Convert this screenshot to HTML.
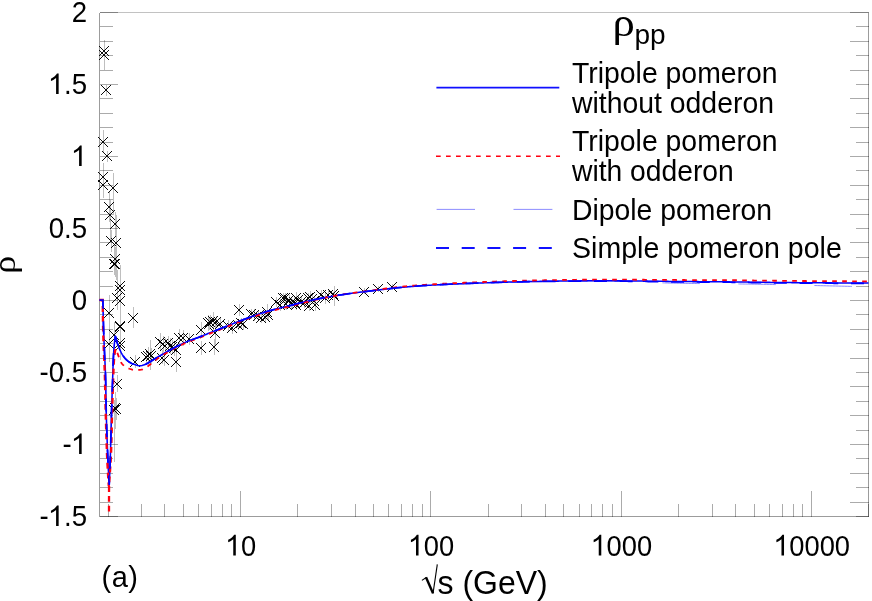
<!DOCTYPE html><html><head><meta charset="utf-8"><title>rho pp</title>
<style>html,body{margin:0;padding:0;background:#fff}svg{display:block;will-change:transform}text{font-family:"Liberation Sans",sans-serif;fill:#000}</style></head><body>
<svg width="872" height="601" viewBox="0 0 872 601">
<rect width="872" height="601" fill="#fff"/>
<path d="M99.5 12.5h18M99.5 26.5h13M99.5 41.5h13M99.5 55.5h13M99.5 70.5h13M99.5 84.5h18M99.5 98.5h13M99.5 113.5h13M99.5 127.5h13M99.5 142.5h13M99.5 156.5h18M99.5 170.5h13M99.5 185.5h13M99.5 199.5h13M99.5 214.5h13M99.5 228.5h18M99.5 242.5h13M99.5 257.5h13M99.5 271.5h13M99.5 286.5h13M99.5 300.5h18M99.5 314.5h13M99.5 329.5h13M99.5 343.5h13M99.5 358.5h13M99.5 372.5h18M99.5 386.5h13M99.5 401.5h13M99.5 415.5h13M99.5 430.5h13M99.5 444.5h18M99.5 458.5h13M99.5 473.5h13M99.5 487.5h13M99.5 502.5h13M99.5 516.5h18" stroke="#000" stroke-opacity="0.33" stroke-width="1" fill="none" shape-rendering="crispEdges"/>
<path d="M868.5 12.5h-18.5M868.5 26.5h-13M868.5 41.5h-18.5M868.5 55.5h-13M868.5 70.5h-18.5M868.5 84.5h-13M868.5 98.5h-18.5M868.5 113.5h-13M868.5 127.5h-18.5M868.5 142.5h-13M868.5 156.5h-18.5M868.5 170.5h-13M868.5 185.5h-18.5M868.5 199.5h-13M868.5 214.5h-18.5M868.5 228.5h-13M868.5 242.5h-18.5M868.5 257.5h-13M868.5 271.5h-18.5M868.5 286.5h-13M868.5 300.5h-18.5M868.5 314.5h-13M868.5 329.5h-18.5M868.5 343.5h-13M868.5 358.5h-18.5M868.5 372.5h-13M868.5 386.5h-18.5M868.5 401.5h-13M868.5 415.5h-18.5M868.5 430.5h-13M868.5 444.5h-18.5M868.5 458.5h-13M868.5 473.5h-18.5M868.5 487.5h-13M868.5 502.5h-18.5M868.5 516.5h-13" stroke="#000" stroke-opacity="0.33" stroke-width="1" fill="none" shape-rendering="crispEdges"/>
<path d="M108.5 516.5v-13M141.5 516.5v-13M164.5 516.5v-13M183.5 516.5v-13M198.5 516.5v-13M211.5 516.5v-13M222.5 516.5v-13M231.5 516.5v-13M240.5 516.5v-25.5M297.5 516.5v-13M331.5 516.5v-13M355.5 516.5v-13M373.5 516.5v-13M388.5 516.5v-13M401.5 516.5v-13M412.5 516.5v-13M422.5 516.5v-13M430.5 516.5v-25.5M488.5 516.5v-13M521.5 516.5v-13M545.5 516.5v-13M563.5 516.5v-13M579.5 516.5v-13M591.5 516.5v-13M602.5 516.5v-13M612.5 516.5v-13M621.5 516.5v-25.5M678.5 516.5v-13M712.5 516.5v-13M735.5 516.5v-13M754.5 516.5v-13M769.5 516.5v-13M782.5 516.5v-13M793.5 516.5v-13M802.5 516.5v-13M811.5 516.5v-25.5M868.5 516.5v-13" stroke="#000" stroke-opacity="0.33" stroke-width="1" fill="none" shape-rendering="crispEdges"/>
<path d="M99.5 12.5H868.5" stroke="#000" stroke-opacity="0.24" stroke-width="1" fill="none" shape-rendering="crispEdges"/>
<path d="M99.5 12.5V516.5M99.5 516.5H868.5M868.5 516.5V12.5" stroke="#000" stroke-opacity="0.39" stroke-width="1" fill="none" shape-rendering="crispEdges"/>
<path d="M104.5 40V70M104.5 45V66M106.5 85V96M103.5 130V152M107.5 151V162M103.5 163V193M103.5 170V198M113.5 173V215M109.5 192V222M110.5 200V240M115.5 212V236M111.5 230V252M116.5 215V280M115.5 247V271M114.5 245V275M115.5 252V277M120.5 265V307M120.5 270V360M117.5 270V310M120.5 285V316M109.5 295V332M133.5 307V328M120.5 312V340M120.5 315V339M114.5 322V348M109.5 325V362M120.5 330V357M120.5 334V358M117.5 375V392M115.5 392V429M116.5 398V420M114.5 400V462M135.5 355V368M146.5 350V364M148.5 347V365M150.5 340V370M151.5 348V364M160.5 333V351M163.5 336V352M165.5 338V352M168.5 336V350M170.5 338V354M172.5 340V354M174.5 342V356M176.5 344V356M179.5 329V347M183.5 330V346M162.5 350V364M164.5 354V366M176.5 354V372M189.5 333V345M201.5 341V355M214.5 339V355M201.5 322V338M208.5 315V331M210.5 315V329M213.5 312V330M216.5 316V328M215.5 321V345M209.5 318V330M220.5 318V330M228.5 320V332M232.5 324V334M239.5 304V316M241.5 318V328M243.5 318V330M238.5 320V330M251.5 309V319M254.5 309V321M258.5 311V321M261.5 313V323M265.5 311V323M268.5 310V320M267.5 304V320M276.5 297V307M280.5 299V311M283.5 293V303M286.5 298V310M289.5 295V305M291.5 297V309M294.5 297V307M296.5 292V304M298.5 295V305M292.5 299V309M296.5 300V310M301.5 297V307M304.5 298V308M308.5 293V303M310.5 291V303M312.5 294V304M314.5 296V306M315.5 299V311M309.5 301V311M321.5 290V300M325.5 292V304M328.5 290V300M333.5 292V298M334.5 286V306M334.5 291V301M285.5 293V303M364.5 288V294M378.5 286V292M392.5 284V290" stroke="#000" stroke-opacity="0.25" stroke-width="1" fill="none" shape-rendering="crispEdges"/>
<path d="M99 46l10 10M109 46l-10 10M99 50l10 10M109 50l-10 10M101 85l10 10M111 85l-10 10M98 137l10 10M108 137l-10 10M102 151l10 10M112 151l-10 10M98 172l10 10M108 172l-10 10M98 180l10 10M108 180l-10 10M108 183l10 10M118 183l-10 10M104 202l10 10M114 202l-10 10M105 210l10 10M115 210l-10 10M110 219l10 10M120 219l-10 10M106 236l10 10M116 236l-10 10M111 238l10 10M121 238l-10 10M110 254l10 10M120 254l-10 10M109 259l10 10M119 259l-10 10M110 259l10 10M120 259l-10 10M115 281l10 10M125 281l-10 10M115 285l10 10M125 285l-10 10M112 293l10 10M122 293l-10 10M115 296l10 10M125 296l-10 10M104 308l10 10M114 308l-10 10M128 313l10 10M138 313l-10 10M115 321l10 10M125 321l-10 10M115 322l10 10M125 322l-10 10M109 330l10 10M119 330l-10 10M104 339l10 10M114 339l-10 10M115 338l10 10M125 338l-10 10M115 341l10 10M125 341l-10 10M112 379l10 10M122 379l-10 10M110 403l10 10M120 403l-10 10M111 404l10 10M121 404l-10 10M109 405l10 10M119 405l-10 10M130 357l10 10M140 357l-10 10M141 352l10 10M151 352l-10 10M143 351l10 10M153 351l-10 10M145 349l10 10M155 349l-10 10M146 351l10 10M156 351l-10 10M155 337l10 10M165 337l-10 10M158 339l10 10M168 339l-10 10M160 341l10 10M170 341l-10 10M163 338l10 10M173 338l-10 10M165 341l10 10M175 341l-10 10M167 342l10 10M177 342l-10 10M169 343l10 10M179 343l-10 10M171 345l10 10M181 345l-10 10M174 333l10 10M184 333l-10 10M178 333l10 10M188 333l-10 10M157 353l10 10M167 353l-10 10M159 355l10 10M169 355l-10 10M171 357l10 10M181 357l-10 10M184 334l10 10M194 334l-10 10M196 343l10 10M206 343l-10 10M209 342l10 10M219 342l-10 10M196 325l10 10M206 325l-10 10M203 318l10 10M213 318l-10 10M205 317l10 10M215 317l-10 10M208 316l10 10M218 316l-10 10M211 317l10 10M221 317l-10 10M210 328l10 10M220 328l-10 10M204 319l10 10M214 319l-10 10M215 319l10 10M225 319l-10 10M223 321l10 10M233 321l-10 10M227 323l10 10M237 323l-10 10M234 305l10 10M244 305l-10 10M236 318l10 10M246 318l-10 10M238 319l10 10M248 319l-10 10M233 320l10 10M243 320l-10 10M246 309l10 10M256 309l-10 10M249 310l10 10M259 310l-10 10M253 311l10 10M263 311l-10 10M256 313l10 10M266 313l-10 10M260 312l10 10M270 312l-10 10M263 310l10 10M273 310l-10 10M262 307l10 10M272 307l-10 10M271 297l10 10M281 297l-10 10M275 300l10 10M285 300l-10 10M278 293l10 10M288 293l-10 10M281 299l10 10M291 299l-10 10M284 295l10 10M294 295l-10 10M286 298l10 10M296 298l-10 10M289 297l10 10M299 297l-10 10M291 293l10 10M301 293l-10 10M293 295l10 10M303 295l-10 10M287 299l10 10M297 299l-10 10M291 300l10 10M301 300l-10 10M296 297l10 10M306 297l-10 10M299 298l10 10M309 298l-10 10M303 293l10 10M313 293l-10 10M305 292l10 10M315 292l-10 10M307 294l10 10M317 294l-10 10M309 296l10 10M319 296l-10 10M310 300l10 10M320 300l-10 10M304 301l10 10M314 301l-10 10M316 290l10 10M326 290l-10 10M320 293l10 10M330 293l-10 10M323 290l10 10M333 290l-10 10M328 289l10 10M338 289l-10 10M329 291l10 10M339 291l-10 10M329 291l10 10M339 291l-10 10M280 293l10 10M290 293l-10 10M359 287l10 10M369 287l-10 10M373 284l10 10M383 284l-10 10M387 282l10 10M397 282l-10 10" stroke="#000" stroke-width="0.95" fill="none"/>
<path d="M662.40 282.84L663.16 282.87L664.66 282.92L666.16 282.96L667.66 283.01L669.16 283.05L670.65 283.10L672.15 283.13L673.65 283.17L675.15 283.21L676.65 283.24L678.15 283.27L679.65 283.29L681.14 283.32L682.64 283.34L684.14 283.36L685.64 283.39L687.14 283.41L688.64 283.43L690.14 283.45L691.64 283.47L693.14 283.48L694.63 283.50L696.13 283.52L697.63 283.54L699.13 283.55L700.63 283.57L702.13 283.58L703.63 283.60L705.13 283.62L706.63 283.63L708.13 283.64L709.63 283.66L711.12 283.67L712.62 283.69L714.12 283.70L715.62 283.72L717.12 283.73L718.62 283.74L720.12 283.76L721.62 283.77L723.12 283.79L724.62 283.80L726.12 283.82L727.61 283.83L729.11 283.84L730.61 283.86L732.11 283.88L733.61 283.89L735.11 283.91L736.61 283.93L738.11 283.94L739.61 283.96L741.11 283.98L742.61 284.00L744.10 284.02L745.60 284.04L747.10 284.06L748.60 284.08L750.10 284.10L751.60 284.12L753.10 284.15L754.60 284.17L756.10 284.20L757.59 284.22L759.09 284.25L760.59 284.28L762.09 284.31L763.59 284.34L765.09 284.36L766.59 284.39L768.09 284.42L769.58 284.46L771.08 284.49L772.58 284.52L774.08 284.55L775.58 284.58L777.08 284.62L778.58 284.65L780.08 284.69L781.57 284.72L783.07 284.76L784.57 284.79L786.07 284.83L787.57 284.86L789.07 284.90L790.57 284.93L792.07 284.97L793.56 285.01L795.06 285.04L796.56 285.08L798.06 285.12L799.56 285.16L801.06 285.19L802.56 285.23L804.06 285.27L805.55 285.31L807.05 285.34L808.55 285.38L810.05 285.42L811.55 285.46L813.05 285.49L814.55 285.53L816.05 285.57L817.54 285.60L819.04 285.64L820.54 285.68L822.04 285.71L823.54 285.75L825.04 285.78L826.54 285.82L828.03 285.85L829.53 285.89L831.03 285.92L832.53 285.96L834.03 285.99L835.53 286.03L837.03 286.06L838.53 286.10L840.02 286.13L841.52 286.17L843.02 286.20L844.52 286.24L846.02 286.27L847.52 286.31L849.02 286.34L850.52 286.38L852.01 286.41L853.51 286.45L855.01 286.48L856.51 286.52L858.01 286.55L859.51 286.59L861.01 286.62L862.51 286.66L864.00 286.69L865.50 286.73L867.00 286.76L868.50 286.80" stroke="#6c6cff" stroke-width="0.8" fill="none" stroke-dasharray="37.5 38.5"/>
<path d="M662.40 282.84L661.66 282.82L660.16 282.76L658.67 282.71L657.17 282.66L655.67 282.60L654.17 282.54L652.67 282.49L651.17 282.43L649.68 282.37L648.18 282.31L646.68 282.25L645.18 282.19L643.68 282.13L642.18 282.07L640.69 282.01L639.19 281.96L637.69 281.90L636.19 281.84L634.69 281.78L633.19 281.73L631.69 281.67L630.20 281.62L628.70 281.57L627.20 281.52L625.70 281.47L624.20 281.42L622.70 281.38L621.21 281.33L619.71 281.29L618.21 281.25L616.71 281.21L615.21 281.18L613.71 281.15L612.21 281.12L610.72 281.09L609.22 281.07L607.72 281.05L606.22 281.03L604.72 281.02L603.22 281.01L601.72 281.00L600.23 281.00L598.73 281.00L597.23 281.00L595.73 281.01L594.23 281.01L592.73 281.01L591.23 281.02L589.73 281.03L588.23 281.04L586.73 281.05L585.24 281.06L583.74 281.07L582.24 281.08L580.74 281.09L579.24 281.10L577.74 281.12L576.24 281.13L574.74 281.15L573.24 281.16L571.74 281.18L570.24 281.19L568.74 281.21L567.25 281.22L565.75 281.24L564.25 281.25L562.75 281.27L561.25 281.29L559.75 281.30L558.25 281.32L556.75 281.34L555.25 281.35L553.75 281.37L552.26 281.39L550.76 281.42L549.26 281.44L547.76 281.46L546.26 281.48L544.76 281.51L543.26 281.53L541.76 281.56L540.26 281.59L538.76 281.61L537.27 281.64L535.77 281.67L534.27 281.70L532.77 281.73L531.27 281.76L529.77 281.79L528.27 281.82L526.77 281.85L525.28 281.89L523.78 281.92L522.28 281.95L520.78 281.98L519.28 282.02L517.78 282.05L516.28 282.09L514.78 282.12L513.29 282.16L511.79 282.20L510.29 282.24L508.79 282.28L507.29 282.32L505.79 282.36L504.29 282.41L502.80 282.45L501.30 282.50L499.80 282.54L498.30 282.59L496.80 282.64L495.30 282.69L493.81 282.73L492.31 282.78L490.81 282.83L489.31 282.88L487.81 282.93L486.31 282.98L484.82 283.03L483.32 283.09L481.82 283.14L480.32 283.19L478.82 283.24L477.32 283.29L475.83 283.35L474.33 283.40L472.83 283.46L471.33 283.51L469.83 283.57L468.34 283.63L466.84 283.69L465.34 283.75L463.84 283.81L462.34 283.87L460.85 283.93L459.35 283.99L457.85 284.05L456.35 284.12L454.85 284.18L453.36 284.25L451.86 284.32L450.36 284.38L448.86 284.45L447.37 284.52L445.87 284.59L444.37 284.66L442.87 284.73L441.38 284.80L439.88 284.88L438.38 284.95L436.88 285.03L435.39 285.10L433.89 285.18L432.39 285.26L430.90 285.35L429.40 285.43L427.90 285.52L426.41 285.61L424.91 285.71L423.42 285.80L421.92 285.90L420.42 286.00L418.93 286.11L417.43 286.22L415.94 286.33L414.44 286.45L412.95 286.57L411.45 286.69L409.96 286.81L408.47 286.94L406.97 287.07L405.48 287.20L403.98 287.33L402.49 287.47L401.00 287.61L399.51 287.75L398.02 287.89L396.53 288.05L395.04 288.21L393.55 288.37L392.06 288.54L390.57 288.71L389.08 288.89L387.59 289.07L386.10 289.25L384.61 289.43L383.12 289.61L381.64 289.79L380.15 289.98L378.66 290.16L377.17 290.34L375.68 290.52L374.19 290.70L372.70 290.87L371.22 291.04L369.73 291.22L368.24 291.39L366.75 291.57L365.26 291.75L363.77 291.93L362.28 292.11L360.80 292.30L359.31 292.49L357.82 292.68L356.34 292.88L354.85 293.07L353.36 293.27L351.88 293.47L350.39 293.68L348.91 293.89L347.42 294.10L345.94 294.31L344.46 294.53L342.97 294.75L341.49 294.97L340.01 295.20L338.53 295.43L337.05 295.67L335.57 295.91L334.09 296.15L332.61 296.40L331.13 296.65L329.66 296.91L328.18 297.17L326.70 297.43L325.23 297.70L323.75 297.98L322.28 298.26L320.81 298.54L319.34 298.83L317.87 299.13L316.40 299.43L314.94 299.74L313.47 300.06L312.01 300.38L310.55 300.71L309.08 301.04L307.62 301.38L306.16 301.72L304.70 302.07L303.24 302.42L301.79 302.77L300.33 303.12L298.87 303.48L297.42 303.85L295.97 304.23L294.52 304.61L293.07 305.00L291.62 305.38L290.17 305.76L288.72 306.12L287.26 306.48L285.80 306.84L284.35 307.19L282.89 307.54L281.43 307.88L279.97 308.23L278.51 308.58L277.05 308.94L275.60 309.30L274.15 309.67L272.70 310.05L271.25 310.45L269.81 310.85L268.38 311.28L266.95 311.71L265.52 312.16L264.09 312.62L262.67 313.09L261.24 313.56L259.82 314.05L258.41 314.54L256.99 315.03L255.57 315.53L254.16 316.03L252.74 316.53L251.33 317.03L249.91 317.53L248.50 318.03L247.09 318.53L245.68 319.03L244.27 319.54L242.86 320.06L241.45 320.58L240.05 321.10L238.64 321.63L237.24 322.16L235.84 322.70L234.45 323.25L233.06 323.81L231.67 324.37L230.28 324.93L228.89 325.50L227.50 326.06L226.11 326.62L224.72 327.17L223.32 327.72L221.93 328.27L220.53 328.82L219.13 329.36L217.74 329.90L216.34 330.45L214.94 331.00L213.55 331.55L212.15 332.10L210.76 332.66L209.37 333.22L207.99 333.79L206.60 334.36L205.21 334.92L203.82 335.49L202.43 336.05L201.04 336.60L199.64 337.14L198.23 337.66L196.82 338.17L195.41 338.67L193.99 339.17L192.57 339.67L191.16 340.18L189.76 340.70L188.37 341.24L186.99 341.82L185.61 342.41L184.25 343.03L182.89 343.66L181.54 344.31L180.19 344.97L178.84 345.64L177.50 346.32L176.17 347.00L174.84 347.68L173.51 348.38L172.18 349.08L170.87 349.79L169.55 350.52L168.24 351.25L166.93 351.98L165.63 352.72L164.32 353.46L163.02 354.20L161.72 354.95L160.42 355.69L159.13 356.45L157.83 357.21L156.54 357.97L155.26 358.74L153.98 359.53L152.72 360.34L151.45 361.14L150.16 361.91L148.86 362.66L147.55 363.44L146.22 364.18L144.87 364.81L143.47 365.26L142.01 365.64L140.52 365.88L139.04 365.85L137.56 365.62L136.08 365.25L134.62 364.78L133.20 364.26L131.84 363.73L130.50 363.04L129.20 362.23L127.97 361.33L126.84 360.39L125.78 359.35L124.76 358.22L123.82 357.02L122.95 355.79L122.17 354.54L121.44 353.24L120.76 351.89L120.12 350.52L119.51 349.14L118.94 347.75L118.40 346.36L117.89 344.94L117.42 343.52L116.97 342.09L116.54 340.65L116.13 339.21L115.75 337.76L115.40 336.10L115.16 337.57L114.94 339.05L114.73 340.52L114.55 342.00L114.40 343.48L114.26 344.97L114.13 346.45L114.01 347.94L113.90 349.43L113.79 350.91L113.69 352.40L113.60 353.89L113.51 355.38L113.43 356.87L113.36 358.36L113.29 359.85L113.23 361.33L113.17 362.82L113.11 364.31L113.06 365.80L113.01 367.29L112.96 368.78L112.91 370.27L112.86 371.76L112.82 373.25L112.77 374.74L112.72 376.23L112.68 377.72L112.63 379.21L112.58 380.70L112.52 382.19L112.47 383.68L112.42 385.17L112.37 386.66L112.32 388.15L112.27 389.64L112.21 391.13L112.16 392.62L112.11 394.11L112.06 395.60L112.01 397.09L111.96 398.58L111.91 400.07L111.86 401.56L111.82 403.05L111.77 404.54L111.72 406.03L111.68 407.52L111.63 409.01L111.59 410.50L111.54 411.99L111.50 413.48L111.46 414.97L111.42 416.46L111.38 417.95L111.34 419.44L111.30 420.93L111.26 422.42L111.22 423.91L111.19 425.40L111.15 426.90L111.11 428.39L111.08 429.88L111.04 431.37L111.01 432.86L110.97 434.35L110.93 435.84L110.90 437.33L110.86 438.82L110.82 440.31L110.78 441.80L110.74 443.29L110.70 444.78L110.66 446.27L110.62 447.76L110.58 449.25L110.53 450.74L110.49 452.23L110.44 453.72L110.39 455.21L110.34 456.70L110.29 458.19L110.24 459.68L110.19 461.17L110.13 462.66L110.08 464.15L110.02 465.64L109.96 467.13L109.90 468.62L109.84 470.11L109.78 471.60L109.72 473.08L109.66 474.57L109.60 476.06L109.53 477.55L109.47 479.04L109.40 480.53L109.33 482.02L109.27 483.51L109.20 485.00L109.12 483.51L109.03 482.02L108.95 480.53L108.87 479.04L108.79 477.55L108.71 476.06L108.63 474.56L108.55 473.07L108.47 471.58L108.39 470.09L108.32 468.60L108.25 467.11L108.17 465.62L108.10 464.13L108.03 462.64L107.96 461.15L107.90 459.65L107.83 458.16L107.77 456.67L107.71 455.18L107.65 453.69L107.59 452.20L107.53 450.70L107.47 449.21L107.41 447.72L107.35 446.23L107.30 444.74L107.24 443.25L107.19 441.75L107.13 440.26L107.08 438.77L107.03 437.28L106.97 435.79L106.92 434.29L106.87 432.80L106.82 431.31L106.77 429.82L106.72 428.33L106.68 426.83L106.63 425.34L106.58 423.85L106.54 422.36L106.49 420.86L106.45 419.37L106.41 417.88L106.37 416.39L106.33 414.90L106.29 413.40L106.25 411.91L106.21 410.42L106.17 408.93L106.14 407.43L106.11 405.94L106.08 404.45L106.05 402.96L106.02 401.46L105.99 399.97L105.97 398.48L105.94 396.98L105.91 395.49L105.89 394.00L105.86 392.51L105.84 391.01L105.81 389.52L105.79 388.03L105.76 386.54L105.73 385.04L105.70 383.55L105.67 382.06L105.64 380.56L105.61 379.07L105.57 377.58L105.53 376.09L105.49 374.60L105.44 373.10L105.39 371.61L105.33 370.12L105.27 368.63L105.21 367.14L105.14 365.65L105.07 364.16L105.00 362.66L104.93 361.17L104.85 359.68L104.78 358.19L104.71 356.70L104.64 355.21L104.57 353.72L104.50 352.22L104.43 350.73L104.37 349.24L104.30 347.75L104.24 346.26L104.18 344.77L104.11 343.28L104.05 341.78L103.98 340.29L103.92 338.80L103.86 337.31L103.80 335.82L103.75 334.33L103.69 332.83L103.64 331.34L103.60 329.85L103.55 328.36L103.51 326.87L103.47 325.37L103.44 323.88L103.40 322.39L103.37 320.90L103.33 319.40L103.30 317.91L103.26 316.42L103.23 314.93L103.19 313.43L103.16 311.94L103.13 310.45L103.09 308.96L103.06 307.46L103.03 305.97L102.99 304.48L102.96 302.99L102.93 301.49L102.90 300.00L99.50 300.00" stroke="#6c6cff" stroke-width="0.8" fill="none" stroke-dasharray="37.5 38.5" stroke-dashoffset="37.5"/>
<path d="M99.50 300.00L102.90 300.00L102.93 301.49L102.96 302.99L102.99 304.48L103.03 305.97L103.06 307.46L103.09 308.96L103.13 310.45L103.16 311.94L103.19 313.43L103.23 314.93L103.26 316.42L103.30 317.91L103.33 319.40L103.37 320.90L103.40 322.39L103.44 323.88L103.47 325.37L103.51 326.87L103.55 328.36L103.60 329.85L103.64 331.34L103.69 332.83L103.75 334.33L103.80 335.82L103.86 337.31L103.92 338.80L103.98 340.29L104.05 341.78L104.11 343.28L104.18 344.77L104.24 346.26L104.30 347.75L104.37 349.24L104.43 350.73L104.50 352.22L104.57 353.72L104.64 355.21L104.71 356.70L104.78 358.19L104.85 359.68L104.93 361.17L105.00 362.66L105.07 364.16L105.14 365.65L105.21 367.14L105.27 368.63L105.33 370.12L105.39 371.61L105.44 373.10L105.49 374.60L105.53 376.09L105.57 377.58L105.61 379.07L105.64 380.56L105.67 382.06L105.70 383.55L105.73 385.04L105.76 386.54L105.79 388.03L105.81 389.52L105.84 391.01L105.86 392.51L105.89 394.00L105.91 395.49L105.94 396.98L105.97 398.48L105.99 399.97L106.02 401.46L106.05 402.96L106.08 404.45L106.11 405.94L106.14 407.43L106.17 408.93L106.21 410.42L106.25 411.91L106.29 413.40L106.33 414.90L106.37 416.39L106.41 417.88L106.45 419.37L106.49 420.86L106.54 422.36L106.58 423.85L106.63 425.34L106.68 426.83L106.72 428.33L106.77 429.82L106.82 431.31L106.87 432.80L106.92 434.29L106.97 435.79L107.03 437.28L107.08 438.77L107.13 440.26L107.19 441.75L107.24 443.25L107.30 444.74L107.35 446.23L107.41 447.72L107.47 449.21L107.53 450.70L107.59 452.20L107.65 453.69L107.71 455.18L107.77 456.67L107.83 458.16L107.90 459.65L107.96 461.15L108.03 462.64L108.10 464.13L108.17 465.62L108.25 467.11L108.32 468.60L108.39 470.09L108.47 471.58L108.55 473.07L108.63 474.56L108.71 476.06L108.79 477.55L108.87 479.04L108.95 480.53L109.03 482.02L109.12 483.51L109.20 485.00L109.27 483.51L109.33 482.02L109.40 480.53L109.47 479.04L109.53 477.55L109.60 476.06L109.66 474.57L109.72 473.08L109.78 471.60L109.84 470.11L109.90 468.62L109.96 467.13L110.02 465.64L110.08 464.15L110.13 462.66L110.19 461.17L110.24 459.68L110.29 458.19L110.34 456.70L110.39 455.21L110.44 453.72L110.49 452.23L110.53 450.74L110.58 449.25L110.62 447.76L110.66 446.27L110.70 444.78L110.74 443.29L110.78 441.80L110.82 440.31L110.86 438.82L110.90 437.33L110.93 435.84L110.97 434.35L111.01 432.86L111.04 431.37L111.08 429.88L111.11 428.39L111.15 426.90L111.19 425.40L111.22 423.91L111.26 422.42L111.30 420.93L111.34 419.44L111.38 417.95L111.42 416.46L111.46 414.97L111.50 413.48L111.54 411.99L111.59 410.50L111.63 409.01L111.68 407.52L111.72 406.03L111.77 404.54L111.82 403.05L111.86 401.56L111.91 400.07L111.96 398.58L112.01 397.09L112.06 395.60L112.11 394.11L112.16 392.62L112.21 391.13L112.27 389.64L112.32 388.15L112.37 386.66L112.42 385.17L112.47 383.68L112.52 382.19L112.58 380.70L112.63 379.21L112.68 377.72L112.72 376.23L112.77 374.74L112.82 373.25L112.86 371.76L112.91 370.27L112.96 368.78L113.01 367.29L113.06 365.80L113.11 364.31L113.17 362.82L113.23 361.33L113.29 359.85L113.36 358.36L113.43 356.87L113.51 355.38L113.60 353.89L113.69 352.40L113.79 350.91L113.90 349.43L114.01 347.94L114.13 346.45L114.26 344.97L114.40 343.48L114.55 342.00L114.73 340.52L114.94 339.05L115.16 337.57L115.40 336.10L115.75 337.56L116.13 339.01L116.54 340.45L116.97 341.89L117.41 343.32L117.89 344.74L118.40 346.16L118.94 347.55L119.51 348.94L120.12 350.32L120.76 351.69L121.44 353.04L122.17 354.34L122.95 355.59L123.82 356.82L124.76 358.02L125.78 359.15L126.84 360.19L127.97 361.13L129.20 362.03L130.50 362.84L131.84 363.53L133.20 364.06L134.62 364.58L136.07 365.05L137.56 365.42L139.04 365.65L140.51 365.68L142.01 365.44L143.47 365.06L144.86 364.61L146.22 363.98L147.55 363.25L148.86 362.47L150.16 361.71L151.45 360.94L152.71 360.14L153.98 359.33L155.25 358.55L156.54 357.78L157.83 357.01L159.12 356.25L160.42 355.50L161.72 354.75L163.02 354.01L164.32 353.26L165.62 352.52L166.93 351.78L168.24 351.05L169.55 350.32L170.86 349.60L172.18 348.88L173.50 348.18L174.83 347.49L176.16 346.80L177.50 346.12L178.84 345.44L180.18 344.77L181.53 344.11L182.88 343.46L184.24 342.83L185.61 342.21L186.98 341.62L188.36 341.05L189.75 340.50L191.16 339.98L192.57 339.47L193.98 338.97L195.40 338.47L196.81 337.97L198.23 337.46L199.63 336.94L201.03 336.40L202.42 335.85L203.81 335.29L205.20 334.73L206.59 334.16L207.98 333.59L209.37 333.02L210.76 332.46L212.15 331.90L213.54 331.35L214.93 330.80L216.33 330.25L217.73 329.71L219.12 329.16L220.52 328.62L221.92 328.07L223.31 327.53L224.71 326.98L226.10 326.42L227.49 325.86L228.88 325.30L230.27 324.74L231.66 324.17L233.05 323.61L234.44 323.05L235.83 322.51L237.23 321.96L238.63 321.43L240.04 320.90L241.44 320.38L242.85 319.86L244.26 319.35L245.67 318.84L247.08 318.33L248.49 317.83L249.90 317.33L251.32 316.84L252.73 316.34L254.15 315.84L255.56 315.34L256.98 314.84L258.39 314.34L259.81 313.85L261.23 313.37L262.65 312.89L264.08 312.42L265.50 311.96L266.93 311.51L268.36 311.08L269.80 310.66L271.24 310.25L272.68 309.86L274.13 309.48L275.58 309.11L277.04 308.74L278.49 308.39L279.95 308.03L281.41 307.69L282.87 307.34L284.33 306.99L285.79 306.64L287.25 306.29L288.70 305.93L290.16 305.56L291.61 305.18L293.06 304.80L294.51 304.42L295.96 304.03L297.41 303.65L298.86 303.28L300.31 302.92L301.77 302.57L303.23 302.22L304.69 301.87L306.15 301.53L307.61 301.19L309.07 300.85L310.53 300.51L311.99 300.19L313.46 299.86L314.92 299.55L316.39 299.23L317.86 298.93L319.32 298.63L320.79 298.34L322.26 298.06L323.74 297.78L325.21 297.51L326.68 297.24L328.16 296.97L329.64 296.71L331.11 296.45L332.59 296.20L334.07 295.95L335.55 295.71L337.03 295.47L338.51 295.23L339.99 295.00L341.47 294.77L342.95 294.55L344.44 294.33L345.92 294.11L347.40 293.90L348.89 293.69L350.37 293.48L351.86 293.28L353.34 293.08L354.83 292.88L356.32 292.68L357.80 292.48L359.29 292.29L360.78 292.10L362.26 291.91L363.75 291.73L365.24 291.55L366.73 291.37L368.22 291.20L369.71 291.02L371.19 290.85L372.68 290.67L374.17 290.50L375.66 290.32L377.15 290.14L378.64 289.96L380.13 289.78L381.61 289.60L383.10 289.41L384.59 289.23L386.08 289.05L387.57 288.87L389.06 288.69L390.54 288.51L392.03 288.34L393.52 288.17L395.01 288.01L396.50 287.85L397.99 287.70L399.48 287.55L400.98 287.41L402.47 287.27L403.96 287.13L405.45 287.00L406.95 286.87L408.44 286.74L409.93 286.61L411.43 286.49L412.92 286.37L414.42 286.25L415.91 286.13L417.41 286.02L418.90 285.91L420.40 285.81L421.89 285.70L423.39 285.60L424.89 285.51L426.38 285.41L427.88 285.32L429.37 285.24L430.87 285.15L432.37 285.07L433.86 284.98L435.36 284.91L436.86 284.83L438.35 284.75L439.85 284.68L441.35 284.60L442.85 284.53L444.34 284.46L445.84 284.39L447.34 284.32L448.84 284.25L450.33 284.18L451.83 284.12L453.33 284.05L454.83 283.99L456.32 283.92L457.82 283.86L459.32 283.79L460.82 283.73L462.32 283.67L463.81 283.61L465.31 283.55L466.81 283.49L468.31 283.43L469.80 283.37L471.30 283.31L472.80 283.26L474.30 283.20L475.80 283.15L477.29 283.09L478.79 283.04L480.29 282.99L481.79 282.94L483.29 282.89L484.79 282.84L486.28 282.78L487.78 282.73L489.28 282.68L490.78 282.63L492.28 282.58L493.77 282.54L495.27 282.49L496.77 282.44L498.27 282.39L499.77 282.35L501.27 282.30L502.76 282.25L504.26 282.21L505.76 282.17L507.26 282.12L508.76 282.08L510.26 282.04L511.76 282.00L513.25 281.96L514.75 281.92L516.25 281.89L517.75 281.85L519.25 281.82L520.75 281.78L522.24 281.75L523.74 281.72L525.24 281.69L526.74 281.65L528.24 281.62L529.74 281.59L531.24 281.56L532.74 281.53L534.23 281.50L535.73 281.47L537.23 281.44L538.73 281.42L540.23 281.39L541.73 281.36L543.23 281.34L544.73 281.31L546.22 281.29L547.72 281.26L549.22 281.24L550.72 281.22L552.22 281.20L553.72 281.17L555.22 281.16L556.72 281.14L558.22 281.12L559.71 281.10L561.21 281.09L562.71 281.07L564.21 281.06L565.71 281.04L567.21 281.02L568.71 281.01L570.21 280.99L571.71 280.98L573.20 280.96L574.70 280.95L576.20 280.93L577.70 280.92L579.20 280.90L580.70 280.89L582.20 280.88L583.70 280.87L585.20 280.86L586.70 280.85L588.19 280.84L589.69 280.83L591.19 280.82L592.69 280.81L594.19 280.81L595.69 280.81L597.19 280.80L598.69 280.80L600.19 280.80L601.69 280.80L603.18 280.80L604.68 280.80L606.18 280.81L607.68 280.81L609.18 280.82L610.68 280.82L612.18 280.83L613.68 280.84L615.18 280.85L616.68 280.86L618.17 280.86L619.67 280.88L621.17 280.89L622.67 280.90L624.17 280.91L625.67 280.92L627.17 280.94L628.67 280.95L630.17 280.96L631.66 280.98L633.16 280.99L634.66 281.01L636.16 281.02L637.66 281.04L639.16 281.06L640.66 281.07L642.16 281.09L643.66 281.11L645.16 281.12L646.65 281.14L648.15 281.16L649.65 281.17L651.15 281.19L652.65 281.21L654.15 281.23L655.65 281.24L657.15 281.26L658.65 281.28L660.14 281.30L661.64 281.31L663.14 281.33L664.64 281.35L666.14 281.36L667.64 281.38L669.14 281.40L670.64 281.41L672.14 281.43L673.64 281.44L675.13 281.46L676.63 281.47L678.13 281.48L679.63 281.50L681.13 281.51L682.63 281.52L684.13 281.53L685.63 281.55L687.13 281.56L688.63 281.57L690.12 281.58L691.62 281.59L693.12 281.60L694.62 281.62L696.12 281.63L697.62 281.64L699.12 281.65L700.62 281.66L702.12 281.67L703.61 281.68L705.11 281.69L706.61 281.70L708.11 281.72L709.61 281.73L711.11 281.74L712.61 281.75L714.11 281.76L715.61 281.77L717.11 281.78L718.60 281.80L720.10 281.81L721.60 281.82L723.10 281.83L724.60 281.85L726.10 281.86L727.60 281.87L729.10 281.89L730.60 281.90L732.10 281.92L733.59 281.93L735.09 281.95L736.59 281.96L738.09 281.98L739.59 282.00L741.09 282.01L742.59 282.03L744.09 282.05L745.59 282.08L747.08 282.10L748.58 282.13L750.08 282.15L751.58 282.18L753.08 282.21L754.58 282.23L756.08 282.25L757.58 282.27L759.07 282.29L760.57 282.31L762.07 282.32L763.57 282.34L765.07 282.35L766.57 282.36L768.07 282.38L769.57 282.39L771.07 282.41L772.56 282.42L774.06 282.44L775.56 282.45L777.06 282.47L778.56 282.48L780.06 282.50L781.56 282.51L783.06 282.52L784.56 282.54L786.05 282.55L787.55 282.56L789.05 282.58L790.55 282.59L792.05 282.61L793.55 282.62L795.05 282.63L796.55 282.64L798.05 282.66L799.55 282.67L801.04 282.68L802.54 282.69L804.04 282.71L805.54 282.72L807.04 282.73L808.54 282.74L810.04 282.75L811.54 282.76L813.04 282.78L814.53 282.79L816.03 282.80L817.53 282.81L819.03 282.82L820.53 282.83L822.03 282.84L823.53 282.85L825.03 282.86L826.53 282.87L828.03 282.87L829.52 282.88L831.02 282.89L832.52 282.90L834.02 282.91L835.52 282.91L837.02 282.92L838.52 282.93L840.02 282.94L841.52 282.94L843.02 282.95L844.51 282.95L846.01 282.96L847.51 282.96L849.01 282.97L850.51 282.97L852.01 282.98L853.51 282.98L855.01 282.98L856.51 282.99L858.01 282.99L859.51 282.99L861.00 283.00L862.50 283.00L864.00 283.00L865.50 283.00L867.00 283.00L868.50 283.00" stroke="#0000ff" stroke-width="1.55" fill="none" stroke-linejoin="round"/>
<path d="M444.60 283.67L445.99 283.60L447.49 283.53L448.99 283.46L450.48 283.39L451.98 283.31L453.48 283.24L454.97 283.17L456.47 283.10L457.97 283.04L459.46 282.97L460.96 282.90L462.46 282.84L463.96 282.77L465.45 282.71L466.95 282.64L468.45 282.58L469.94 282.52L471.44 282.46L472.94 282.40L474.44 282.34L475.93 282.28L477.43 282.22L478.93 282.17L480.43 282.11L481.92 282.05L483.42 282.00L484.92 281.94L486.42 281.89L487.91 281.83L489.41 281.78L490.91 281.72L492.41 281.67L493.90 281.62L495.40 281.56L496.90 281.51L498.40 281.46L499.89 281.41L501.39 281.36L502.89 281.31L504.39 281.26L505.89 281.22L507.38 281.17L508.88 281.12L510.38 281.08L511.88 281.03L513.37 280.99L514.87 280.95L516.37 280.91L517.87 280.87L519.37 280.83L520.86 280.79L522.36 280.75L523.86 280.72L525.36 280.68L526.86 280.64L528.35 280.61L529.85 280.57L531.35 280.54L532.85 280.50L534.35 280.47L535.84 280.44L537.34 280.40L538.84 280.37L540.34 280.34L541.84 280.31L543.34 280.28L544.83 280.25L546.33 280.22L547.83 280.19L549.33 280.17L550.83 280.14L552.33 280.12L553.82 280.09L555.32 280.07L556.82 280.04L558.32 280.02L559.82 280.00L561.32 279.98L562.81 279.96L564.31 279.94L565.81 279.92L567.31 279.90L568.81 279.88L570.31 279.86L571.80 279.84L573.30 279.82L574.80 279.80L576.30 279.78L577.80 279.76L579.30 279.74L580.79 279.72L582.29 279.71L583.79 279.69L585.29 279.68L586.79 279.66L588.29 279.65L589.79 279.64L591.28 279.63L592.78 279.62L594.28 279.61L595.78 279.61L597.28 279.60L598.78 279.60L600.27 279.60L601.77 279.60L603.27 279.60L604.77 279.60L606.27 279.60L607.77 279.61L609.27 279.61L610.76 279.61L612.26 279.62L613.76 279.62L615.26 279.63L616.76 279.63L618.26 279.64L619.75 279.64L621.25 279.65L622.75 279.66L624.25 279.66L625.75 279.67L627.25 279.68L628.75 279.68L630.24 279.69L631.74 279.70L633.24 279.71L634.74 279.72L636.24 279.73L637.74 279.74L639.23 279.75L640.73 279.75L642.23 279.76L643.73 279.77L645.23 279.78L646.73 279.79L648.23 279.80L649.72 279.81L651.22 279.82L652.72 279.83L654.22 279.84L655.72 279.85L657.22 279.86L658.72 279.87L660.21 279.88L661.71 279.89L663.21 279.90L664.71 279.91L666.21 279.92L667.71 279.93L669.20 279.94L670.70 279.95L672.20 279.96L673.70 279.97L675.20 279.97L676.70 279.98L678.20 279.99L679.69 280.00L681.19 280.01L682.69 280.01L684.19 280.02L685.69 280.03L687.19 280.03L688.68 280.04L690.18 280.05L691.68 280.05L693.18 280.06L694.68 280.06L696.18 280.07L697.68 280.08L699.17 280.08L700.67 280.09L702.17 280.09L703.67 280.10L705.17 280.11L706.67 280.11L708.17 280.12L709.66 280.12L711.16 280.13L712.66 280.14L714.16 280.14L715.66 280.15L717.16 280.16L718.66 280.17L720.15 280.17L721.65 280.18L723.15 280.19L724.65 280.20L726.15 280.20L727.65 280.21L729.14 280.22L730.64 280.23L732.14 280.24L733.64 280.25L735.14 280.26L736.64 280.27L738.13 280.29L739.63 280.30L741.13 280.31L742.63 280.33L744.13 280.35L745.63 280.37L747.13 280.40L748.62 280.42L750.12 280.45L751.62 280.47L753.12 280.50L754.62 280.53L756.11 280.55L757.61 280.57L759.11 280.59L760.61 280.61L762.11 280.62L763.61 280.64L765.11 280.65L766.60 280.67L768.10 280.68L769.60 280.69L771.10 280.71L772.60 280.72L774.10 280.74L775.59 280.75L777.09 280.77L778.59 280.78L780.09 280.80L781.59 280.81L783.09 280.82L784.58 280.84L786.08 280.85L787.58 280.87L789.08 280.88L790.58 280.89L792.08 280.91L793.58 280.92L795.07 280.93L796.57 280.94L798.07 280.96L799.57 280.97L801.07 280.98L802.57 280.99L804.06 281.01L805.56 281.02L807.06 281.03L808.56 281.04L810.06 281.05L811.56 281.06L813.05 281.08L814.55 281.09L816.05 281.10L817.55 281.11L819.05 281.12L820.55 281.13L822.05 281.14L823.54 281.15L825.04 281.16L826.54 281.17L828.04 281.17L829.54 281.18L831.04 281.19L832.54 281.20L834.03 281.21L835.53 281.21L837.03 281.22L838.53 281.23L840.03 281.24L841.53 281.24L843.02 281.25L844.52 281.25L846.02 281.26L847.52 281.26L849.02 281.27L850.52 281.27L852.02 281.28L853.51 281.28L855.01 281.28L856.51 281.29L858.01 281.29L859.51 281.29L861.01 281.30L862.51 281.30L864.00 281.30L865.50 281.30L867.00 281.30L868.50 281.30" stroke="#ff0010" stroke-width="1.8" fill="none" stroke-dasharray="4.7 5.3" stroke-dashoffset="2.35"/>
<path d="M444.60 283.67L444.50 283.68L443.00 283.75L441.50 283.83L440.01 283.91L438.51 283.99L437.01 284.07L435.52 284.15L434.02 284.23L432.52 284.32L431.03 284.40L429.53 284.49L428.04 284.58L426.54 284.68L425.05 284.78L423.55 284.88L422.06 284.98L420.56 285.09L419.07 285.19L417.57 285.31L416.08 285.42L414.58 285.54L413.09 285.66L411.60 285.78L410.10 285.91L408.61 286.04L407.12 286.17L405.62 286.31L404.13 286.45L402.64 286.59L401.15 286.74L399.66 286.88L398.17 287.04L396.68 287.20L395.19 287.37L393.71 287.55L392.22 287.74L390.73 287.92L389.25 288.12L387.76 288.31L386.27 288.51L384.79 288.71L383.30 288.91L381.82 289.11L380.33 289.31L378.85 289.51L377.36 289.71L375.87 289.91L374.39 290.10L372.90 290.29L371.42 290.48L369.93 290.67L368.44 290.86L366.96 291.05L365.47 291.25L363.98 291.44L362.50 291.64L361.01 291.84L359.53 292.05L358.05 292.26L356.56 292.47L355.08 292.68L353.59 292.89L352.11 293.10L350.63 293.32L349.15 293.54L347.66 293.77L346.18 294.00L344.70 294.23L343.22 294.47L341.74 294.71L340.27 294.95L338.79 295.21L337.32 295.47L335.84 295.73L334.37 296.00L332.89 296.28L331.42 296.56L329.95 296.84L328.48 297.13L327.01 297.43L325.54 297.73L324.07 298.03L322.61 298.34L321.14 298.65L319.68 298.97L318.22 299.29L316.76 299.63L315.30 299.97L313.84 300.32L312.38 300.67L310.93 301.03L309.47 301.39L308.02 301.76L306.57 302.13L305.11 302.50L303.66 302.87L302.21 303.24L300.76 303.61L299.30 303.98L297.85 304.35L296.40 304.73L294.95 305.11L293.50 305.49L292.05 305.87L290.60 306.25L289.15 306.62L287.70 306.98L286.24 307.33L284.78 307.68L283.32 308.03L281.86 308.38L280.40 308.73L278.95 309.08L277.49 309.43L276.04 309.79L274.58 310.16L273.13 310.54L271.69 310.93L270.25 311.33L268.81 311.75L267.38 312.18L265.95 312.62L264.52 313.08L263.10 313.54L261.68 314.02L260.26 314.50L258.84 314.99L257.42 315.48L256.01 315.98L254.59 316.48L253.18 316.98L251.77 317.48L250.35 317.98L248.94 318.47L247.53 318.97L246.11 319.48L244.70 319.99L243.30 320.50L241.89 321.01L240.48 321.54L239.08 322.06L237.68 322.59L236.28 323.13L234.89 323.68L233.50 324.23L232.10 324.79L230.72 325.35L229.33 325.92L227.94 326.48L226.55 327.04L225.16 327.60L223.76 328.15L222.37 328.70L220.97 329.24L219.58 329.79L218.18 330.33L216.78 330.88L215.39 331.42L213.99 331.97L212.60 332.52L211.21 333.08L209.82 333.64L208.43 334.21L207.05 334.77L205.66 335.34L204.27 335.91L202.88 336.47L201.49 337.02L200.09 337.56L198.69 338.09L197.28 338.61L195.87 339.11L194.45 339.60L193.04 340.10L191.62 340.61L190.22 341.13L188.82 341.66L187.44 342.23L186.06 342.81L184.70 343.42L183.33 344.04L181.98 344.69L180.63 345.34L179.28 346.01L177.94 346.68L176.61 347.37L175.28 348.06L173.95 348.76L172.64 349.48L171.34 350.22L170.03 350.96L168.73 351.71L167.43 352.45L166.13 353.19L164.83 353.94L163.54 354.70L162.26 355.49L161.00 356.30L159.76 357.13L158.52 357.98L157.30 358.85L156.09 359.73L154.91 360.65L153.75 361.60L152.59 362.56L151.43 363.50L150.24 364.42L149.05 365.34L147.86 366.27L146.63 367.15L145.37 367.91L144.04 368.62L142.65 369.29L141.22 369.73L139.77 369.86L138.27 369.93L136.76 369.97L135.25 370.00L133.77 369.94L132.29 369.63L130.83 369.20L129.42 368.74L128.01 368.17L126.64 367.50L125.36 366.74L124.16 365.88L123.00 364.87L121.96 363.74L121.11 362.56L120.44 361.29L119.85 359.92L119.33 358.48L118.84 357.03L118.34 355.59L117.83 354.18L117.32 352.77L116.84 351.35L116.36 349.93L115.90 348.50" stroke="#ff0010" stroke-width="1.8" fill="none" stroke-dasharray="4.7 5.3" stroke-dashoffset="2.35"/>
<path d="M109.00 511.50L109.00 510.00L109.00 508.50L109.00 507.00L109.00 505.50L109.01 504.00L109.01 502.51L109.01 501.01L109.01 499.51L109.02 498.01L109.02 496.51L109.02 495.02L109.03 493.52L109.03 492.02L109.04 490.52L109.05 489.03L109.05 487.53L109.08 486.03L109.13 484.54L109.20 483.04L109.28 481.55L109.38 480.05L109.48 478.56L109.59 477.06L109.71 475.57L109.82 474.07L109.93 472.58L110.03 471.08L110.12 469.58L110.22 468.09L110.31 466.59L110.41 465.10L110.51 463.60L110.61 462.11L110.71 460.61L110.80 459.12L110.88 457.62L110.95 456.13L111.01 454.63L111.07 453.13L111.13 451.64L111.18 450.14L111.23 448.64L111.27 447.15L111.32 445.65L111.36 444.15L111.40 442.65L111.44 441.16L111.48 439.66L111.52 438.16L111.56 436.66L111.59 435.17L111.63 433.67L111.66 432.17L111.70 430.67L111.73 429.17L111.76 427.68L111.80 426.18L111.83 424.68L111.86 423.18L111.90 421.68L111.93 420.19L111.97 418.69L112.00 417.19L112.04 415.69L112.08 414.20L112.12 412.70L112.16 411.20L112.21 409.70L112.25 408.20L112.30 406.71L112.35 405.21L112.39 403.71L112.44 402.22L112.49 400.72L112.54 399.22L112.59 397.72L112.64 396.23L112.69 394.73L112.74 393.23L112.79 391.73L112.84 390.24L112.89 388.74L112.94 387.24L112.99 385.75L113.05 384.25L113.10 382.75L113.15 381.25L113.21 379.76L113.26 378.26L113.31 376.76L113.36 375.26L113.41 373.77L113.46 372.27L113.51 370.77L113.56 369.27L113.62 367.77L113.68 366.28L113.75 364.78L113.83 363.29L113.91 361.79L114.01 360.30L114.12 358.80L114.24 357.30L114.39 355.80L114.57 354.31L114.77 352.84L115.02 351.37L115.42 349.93L115.90 348.50" stroke="#ff0010" stroke-width="2.3" fill="none" stroke-dasharray="5.8 4" stroke-dashoffset="0"/>
<path d="M108.74 486.17L108.66 484.68L108.56 483.19L108.45 481.71L108.34 480.22L108.24 478.73L108.16 477.24L108.07 475.76L107.99 474.27L107.90 472.78L107.82 471.29L107.74 469.80L107.65 468.32L107.57 466.83L107.49 465.34L107.41 463.85L107.34 462.36L107.26 460.88L107.19 459.39L107.12 457.90L107.06 456.41L107.00 454.92L106.94 453.43L106.88 451.94L106.82 450.45L106.77 448.96L106.71 447.48L106.66 445.99L106.61 444.50L106.56 443.01L106.51 441.52L106.46 440.03L106.41 438.54L106.36 437.05L106.32 435.56L106.27 434.07L106.22 432.58L106.18 431.09L106.14 429.60L106.09 428.11L106.05 426.62L106.01 425.13L105.97 423.64L105.92 422.15L105.88 420.66L105.84 419.17L105.80 417.68L105.76 416.19L105.72 414.70L105.68 413.21L105.65 411.72L105.61 410.23L105.57 408.74L105.53 407.26L105.50 405.77L105.46 404.28L105.43 402.79L105.40 401.30L105.36 399.81L105.33 398.32L105.30 396.83L105.27 395.34L105.24 393.85L105.21 392.36L105.18 390.87L105.15 389.38L105.12 387.89L105.09 386.40L105.05 384.91L105.02 383.42L104.98 381.93L104.95 380.44L104.91 378.95L104.87 377.46L104.83 375.97L104.78 374.48L104.74 372.99L104.69 371.50L104.63 370.01L104.57 368.52L104.52 367.03L104.45 365.54L104.39 364.05L104.33 362.57L104.26 361.08L104.20 359.59L104.13 358.10L104.07 356.61L104.00 355.12L103.94 353.63L103.88 352.14L103.82 350.65L103.77 349.16L103.71 347.67L103.65 346.19L103.59 344.70L103.54 343.21L103.48 341.72L103.42 340.23L103.36 338.74L103.31 337.25L103.26 335.76L103.21 334.27L103.17 332.78L103.13 331.29L103.10 329.80L103.06 328.31L103.04 326.82L103.01 325.33L102.98 323.84L102.96 322.35L102.94 320.86L102.92 319.37L102.90 317.88L102.88 316.39L102.86 314.90L102.84 313.41L102.82 311.92L102.80 310.43L102.79 308.94L102.77 307.45L102.75 305.96L102.74 304.47L102.73 302.98L102.71 301.49L102.70 300.00L99.50 300.00" stroke="#ff0010" stroke-width="2.3" fill="none" stroke-dasharray="5.8 4" stroke-dashoffset="2"/>
<path d="M214.50 330.97L214.93 330.80L216.33 330.25L217.73 329.71L219.12 329.16L220.52 328.62L221.92 328.07L223.31 327.53L224.71 326.98L226.10 326.42L227.49 325.86L228.88 325.30L230.27 324.74L231.66 324.17L233.05 323.61L234.44 323.05L235.83 322.51L237.23 321.96L238.63 321.43L240.04 320.90L241.44 320.38L242.85 319.86L244.26 319.35L245.67 318.84L247.08 318.33L248.49 317.83L249.90 317.33L251.32 316.84L252.73 316.34L254.15 315.84L255.56 315.34L256.98 314.84L258.39 314.34L259.81 313.85L261.23 313.37L262.65 312.89L264.08 312.42L265.50 311.96L266.93 311.51L268.36 311.08L269.80 310.66L271.24 310.25L272.68 309.86L274.13 309.48L275.58 309.11L277.04 308.74L278.49 308.39L279.95 308.03L281.41 307.69L282.87 307.34L284.33 306.99L285.79 306.64L287.25 306.29L288.70 305.93L290.16 305.56L291.61 305.18L293.06 304.80L294.51 304.42L295.96 304.03L297.41 303.65L298.86 303.28L300.31 302.92L301.77 302.57L303.23 302.22L304.69 301.87L306.15 301.53L307.61 301.19L309.07 300.85L310.53 300.51L311.99 300.19L313.46 299.86L314.92 299.55L316.39 299.23L317.86 298.93L319.32 298.63L320.79 298.34L322.26 298.06L323.74 297.78L325.21 297.51L326.68 297.24L328.16 296.97L329.64 296.71L331.11 296.45L332.59 296.20L334.07 295.95L335.55 295.71L337.03 295.47L338.51 295.23L339.99 295.00L341.47 294.77L342.95 294.55L344.44 294.33L345.92 294.11L347.40 293.90L348.89 293.69L350.37 293.48L351.86 293.28L353.34 293.08L354.83 292.88L356.32 292.68L357.80 292.48L359.29 292.29L360.78 292.10L362.26 291.91L363.75 291.73L365.24 291.55L366.73 291.37L368.22 291.20L369.71 291.02L371.19 290.85L372.68 290.67L374.17 290.50L375.66 290.32L377.15 290.14L378.64 289.96L380.13 289.78L381.61 289.60L383.10 289.41L384.59 289.23L386.08 289.05L387.57 288.87L389.06 288.69L390.54 288.51L392.03 288.34L393.52 288.17L395.01 288.01L396.50 287.85L397.99 287.70L399.48 287.55L400.98 287.41L402.47 287.27L403.96 287.13L405.45 287.00L406.95 286.87L408.44 286.74L409.93 286.61L411.43 286.49L412.92 286.37L414.42 286.25L415.91 286.13L417.41 286.02L418.90 285.91L420.40 285.81L421.89 285.70L423.39 285.60L424.89 285.51L426.38 285.41L427.88 285.32L429.37 285.24L430.87 285.15L432.37 285.07L433.86 284.98L435.36 284.91L436.86 284.83L438.35 284.75L439.85 284.68L441.35 284.60L442.85 284.53L444.34 284.46L445.84 284.39L447.34 284.32L448.84 284.25L450.33 284.18L451.83 284.12L453.33 284.05L454.83 283.99L456.32 283.92L457.82 283.86L459.32 283.79L460.82 283.73L462.32 283.67L463.81 283.61L465.31 283.55L466.81 283.49L468.31 283.43L469.80 283.37L471.30 283.31L472.80 283.26L474.30 283.20L475.80 283.15L477.29 283.09L478.79 283.04L480.29 282.99L481.79 282.94L483.29 282.89L484.79 282.84L486.28 282.78L487.78 282.73L489.28 282.68L490.78 282.63L492.28 282.58L493.77 282.54L495.27 282.49L496.77 282.44L498.27 282.39L499.77 282.35L501.27 282.30L502.76 282.25L504.26 282.21L505.76 282.17L507.26 282.12L508.76 282.08L510.26 282.04L511.76 282.00L513.25 281.96L514.75 281.92L516.25 281.89L517.75 281.85L519.25 281.82L520.75 281.79L522.24 281.76L523.74 281.73L525.24 281.70L526.74 281.67L528.24 281.65L529.74 281.62L531.24 281.59L532.74 281.57L534.23 281.54L535.73 281.52L537.23 281.49L538.73 281.47L540.23 281.45L541.73 281.42L543.23 281.40L544.73 281.38L546.22 281.36L547.72 281.34L549.22 281.32L550.72 281.31L552.22 281.29L553.72 281.27L555.22 281.26L556.72 281.24L558.22 281.23L559.71 281.22L561.21 281.21L562.71 281.20L564.21 281.18L565.71 281.17L567.21 281.16L568.71 281.15L570.21 281.14L571.71 281.13L573.20 281.12L574.70 281.11L576.20 281.10L577.70 281.09L579.20 281.08L580.70 281.07L582.20 281.06L583.70 281.05L585.20 281.05L586.70 281.04L588.19 281.04L589.69 281.03L591.19 281.03L592.69 281.03L594.19 281.03L595.69 281.03L597.19 281.03L598.69 281.03L600.19 281.03L601.69 281.04L603.18 281.04L604.68 281.05L606.18 281.06L607.68 281.07L609.18 281.08L610.68 281.09L612.18 281.10L613.68 281.11L615.18 281.12L616.68 281.14L618.17 281.15L619.67 281.17L621.17 281.18L622.67 281.20L624.17 281.21L625.67 281.23L627.17 281.25L628.67 281.27L630.17 281.28L631.66 281.30L633.16 281.32L634.66 281.34L636.16 281.36L637.66 281.38L639.16 281.40L640.66 281.42L642.16 281.44L643.66 281.46L645.16 281.47L646.65 281.49L648.15 281.51L649.65 281.52L651.15 281.54L652.65 281.56L654.15 281.58L655.65 281.59L657.15 281.61L658.65 281.63L660.14 281.65L661.64 281.66L663.14 281.68L664.64 281.70L666.14 281.71L667.64 281.73L669.14 281.75L670.64 281.76L672.14 281.78L673.64 281.79L675.13 281.81L676.63 281.82L678.13 281.83L679.63 281.85L681.13 281.86L682.63 281.87L684.13 281.88L685.63 281.90L687.13 281.91L688.63 281.92L690.12 281.93L691.62 281.94L693.12 281.95L694.62 281.97L696.12 281.98L697.62 281.99L699.12 282.00L700.62 282.01L702.12 282.02L703.61 282.03L705.11 282.04L706.61 282.05L708.11 282.07L709.61 282.08L711.11 282.09L712.61 282.10L714.11 282.11L715.61 282.12L717.11 282.13L718.60 282.15L720.10 282.16L721.60 282.17L723.10 282.18L724.60 282.20L726.10 282.21L727.60 282.22L729.10 282.24L730.60 282.25L732.10 282.27L733.59 282.28L735.09 282.30L736.59 282.31L738.09 282.33L739.59 282.35L741.09 282.36L742.59 282.38L744.09 282.40L745.59 282.43L747.08 282.45L748.58 282.48L750.08 282.50L751.58 282.53L753.08 282.56L754.58 282.58L756.08 282.60L757.58 282.62L759.07 282.64L760.57 282.66L762.07 282.67L763.57 282.69L765.07 282.70L766.57 282.71L768.07 282.73L769.57 282.74L771.07 282.76L772.56 282.77L774.06 282.79L775.56 282.80L777.06 282.82L778.56 282.83L780.06 282.85L781.56 282.86L783.06 282.87L784.56 282.89L786.05 282.90L787.55 282.91L789.05 282.93L790.55 282.94L792.05 282.96L793.55 282.97L795.05 282.98L796.55 282.99L798.05 283.01L799.55 283.02L801.04 283.03L802.54 283.04L804.04 283.06L805.54 283.07L807.04 283.08L808.54 283.09L810.04 283.10L811.54 283.11L813.04 283.13L814.53 283.14L816.03 283.15L817.53 283.16L819.03 283.17L820.53 283.18L822.03 283.19L823.53 283.20L825.03 283.21L826.53 283.22L828.03 283.22L829.52 283.23L831.02 283.24L832.52 283.25L834.02 283.26L835.52 283.26L837.02 283.27L838.52 283.28L840.02 283.29L841.52 283.29L843.02 283.30L844.51 283.30L846.01 283.31L847.51 283.31L849.01 283.32L850.51 283.32L852.01 283.33L853.51 283.33L855.01 283.33L856.51 283.34L858.01 283.34L859.51 283.34L861.00 283.35L862.50 283.35L864.00 283.35L865.50 283.35L867.00 283.35L868.50 283.35" stroke="#0000ff" stroke-width="1.75" fill="none" stroke-dasharray="13 12.7"/>
<path d="M214.50 330.97L213.54 331.35L212.15 331.90L210.76 332.46L209.37 333.02L207.98 333.59L206.59 334.16L205.20 334.73L203.81 335.29L202.42 335.85L201.03 336.40L199.63 336.94L198.23 337.46L196.81 337.97L195.40 338.47L193.98 338.97L192.57 339.47L191.16 339.98L189.75 340.50L188.36 341.05L186.98 341.62L185.61 342.21L184.24 342.83L182.88 343.46L181.53 344.11L180.18 344.77L178.84 345.44L177.50 346.12L176.16 346.80L174.83 347.49L173.50 348.18L172.18 348.88L170.86 349.60L169.55 350.32L168.24 351.05L166.93 351.78L165.62 352.52L164.32 353.26L163.02 354.01L161.72 354.75L160.42 355.50L159.12 356.25L157.83 357.01L156.54 357.78L155.25 358.55L153.98 359.33L152.71 360.14L151.45 360.94L150.16 361.71L148.86 362.47L147.55 363.25L146.22 363.98L144.86 364.61L143.47 365.06L142.01 365.44L140.51 365.68L139.04 365.65L137.56 365.42L136.07 365.05L134.62 364.58L133.20 364.06L131.84 363.53L130.50 362.84L129.20 362.03L127.97 361.13L126.84 360.19L125.78 359.15L124.76 358.02L123.82 356.82L122.95 355.59L122.17 354.34L121.44 353.04L120.76 351.69L120.12 350.32L119.51 348.94L118.94 347.55L118.40 346.16L117.89 344.74L117.41 343.32L116.97 341.89L116.54 340.45L116.13 339.01L115.75 337.56L115.40 336.10L115.16 337.57L114.94 339.05L114.73 340.52L114.55 342.00L114.40 343.48L114.26 344.97L114.13 346.45L114.01 347.94L113.90 349.43L113.79 350.91L113.69 352.40L113.60 353.89L113.51 355.38L113.43 356.87L113.36 358.36L113.29 359.85L113.23 361.33L113.17 362.82L113.11 364.31L113.06 365.80L113.01 367.29L112.96 368.78L112.91 370.27L112.86 371.76L112.82 373.25L112.77 374.74L112.72 376.23L112.68 377.72L112.63 379.21L112.58 380.70L112.52 382.19L112.47 383.68L112.42 385.17L112.37 386.66L112.32 388.15L112.27 389.64L112.21 391.13L112.16 392.62L112.11 394.11L112.06 395.60L112.01 397.09L111.96 398.58L111.91 400.07L111.86 401.56L111.82 403.05L111.77 404.54L111.72 406.03L111.68 407.52L111.63 409.01L111.59 410.50L111.54 411.99L111.50 413.48L111.46 414.97L111.42 416.46L111.38 417.95L111.34 419.44L111.30 420.93L111.26 422.42L111.22 423.91L111.19 425.40L111.15 426.90L111.11 428.39L111.08 429.88L111.04 431.37L111.01 432.86L110.97 434.35L110.93 435.84L110.90 437.33L110.86 438.82L110.82 440.31L110.78 441.80L110.74 443.29L110.70 444.78L110.66 446.27L110.62 447.76L110.58 449.25L110.53 450.74L110.49 452.23L110.44 453.72L110.39 455.21L110.34 456.70L110.29 458.19L110.24 459.68L110.19 461.17L110.13 462.66L110.08 464.15L110.02 465.64L109.96 467.13L109.90 468.62L109.84 470.11L109.78 471.60L109.72 473.08L109.66 474.57L109.60 476.06L109.53 477.55L109.47 479.04L109.40 480.53L109.33 482.02L109.27 483.51L109.20 485.00L109.12 483.51L109.03 482.02L108.95 480.53L108.87 479.04L108.79 477.55L108.71 476.06L108.63 474.56L108.55 473.07L108.47 471.58L108.39 470.09L108.32 468.60L108.25 467.11L108.17 465.62L108.10 464.13L108.03 462.64L107.96 461.15L107.90 459.65L107.83 458.16L107.77 456.67L107.71 455.18L107.65 453.69L107.59 452.20L107.53 450.70L107.47 449.21L107.41 447.72L107.35 446.23L107.30 444.74L107.24 443.25L107.19 441.75L107.13 440.26L107.08 438.77L107.03 437.28L106.97 435.79L106.92 434.29L106.87 432.80L106.82 431.31L106.77 429.82L106.72 428.33L106.68 426.83L106.63 425.34L106.58 423.85L106.54 422.36L106.49 420.86L106.45 419.37L106.41 417.88L106.37 416.39L106.33 414.90L106.29 413.40L106.25 411.91L106.21 410.42L106.17 408.93L106.14 407.43L106.11 405.94L106.08 404.45L106.05 402.96L106.02 401.46L105.99 399.97L105.97 398.48L105.94 396.98L105.91 395.49L105.89 394.00L105.86 392.51L105.84 391.01L105.81 389.52L105.79 388.03L105.76 386.54L105.73 385.04L105.70 383.55L105.67 382.06L105.64 380.56L105.61 379.07L105.57 377.58L105.53 376.09L105.49 374.60L105.44 373.10L105.39 371.61L105.33 370.12L105.27 368.63L105.21 367.14L105.14 365.65L105.07 364.16L105.00 362.66L104.93 361.17L104.85 359.68L104.78 358.19L104.71 356.70L104.64 355.21L104.57 353.72L104.50 352.22L104.43 350.73L104.37 349.24L104.30 347.75L104.24 346.26L104.18 344.77L104.11 343.28L104.05 341.78L103.98 340.29L103.92 338.80L103.86 337.31L103.80 335.82L103.75 334.33L103.69 332.83L103.64 331.34L103.60 329.85L103.55 328.36L103.51 326.87L103.47 325.37L103.44 323.88L103.40 322.39L103.37 320.90L103.33 319.40L103.30 317.91L103.26 316.42L103.23 314.93L103.19 313.43L103.16 311.94L103.13 310.45L103.09 308.96L103.06 307.46L103.03 305.97L102.99 304.48L102.96 302.99L102.93 301.49L102.90 300.00L99.50 300.00" stroke="#0000ff" stroke-width="1.75" fill="none" stroke-dasharray="13 12.7" stroke-dashoffset="13"/>
<path d="M436.4 87.7H559.3" stroke="#1010ff" stroke-width="1.8"/>
<path d="M436 156.3H560" stroke="#ff0010" stroke-width="1.4" stroke-dasharray="4.7 5.3"/>
<path d="M436.6 209.4H475M513.5 209.4H552.4" stroke="#7070ff" stroke-width="0.8"/>
<path d="M436 248H552" stroke="#1010ff" stroke-width="1.9" stroke-dasharray="13 12.7"/>
<text transform="translate(572 82.6) scale(1 1.08)" font-size="28" textLength="205.58" lengthAdjust="spacingAndGlyphs">Tripole pomeron</text>
<text transform="translate(572 112.7) scale(1 1.065)" font-size="28" textLength="201.96" lengthAdjust="spacingAndGlyphs">without odderon</text>
<text transform="translate(572 150.5) scale(1 1.08)" font-size="28" textLength="205.58" lengthAdjust="spacingAndGlyphs">Tripole pomeron</text>
<text transform="translate(572 181.3) scale(1 1.065)" font-size="28" textLength="161.78" lengthAdjust="spacingAndGlyphs">with odderon</text>
<text transform="translate(572 219.6) scale(1 1.065)" font-size="28" textLength="200.12" lengthAdjust="spacingAndGlyphs">Dipole pomeron</text>
<text transform="translate(572 257.6) scale(1 1.065)" font-size="28" textLength="269.80" lengthAdjust="spacingAndGlyphs">Simple pomeron pole</text>
<text transform="translate(612.4 35.9) scale(1.16 1.02)" font-size="38.5" style="font-family:&quot;Liberation Serif&quot;,serif">ρ</text>
<text x="634.4" y="44.4" font-size="28">pp</text>
<text transform="translate(71.67 22.4) scale(0.985 1.07)" font-size="28">2</text>
<path transform="translate(47.76 94.00) scale(0.014275 -0.013897)" d="M763 0L583 0L583 1147Q518 1085 412.5 1023Q307 961 223 930L223 1104Q374 1175 487 1276Q600 1377 647 1472L763 1472Z" fill="#000"/>
<text transform="translate(64.00 94.4) scale(0.985 1.07)" font-size="28">.5</text>
<path transform="translate(70.77 166.00) scale(0.014275 -0.013897)" d="M763 0L583 0L583 1147Q518 1085 412.5 1023Q307 961 223 930L223 1104Q374 1175 487 1276Q600 1377 647 1472L763 1472Z" fill="#000"/>
<text transform="translate(48.66 238.4) scale(0.985 1.07)" font-size="28">0.5</text>
<text transform="translate(71.67 310.4) scale(0.985 1.07)" font-size="28">0</text>
<text transform="translate(39.48 382.4) scale(0.985 1.07)" font-size="28">-0.5</text>
<text transform="translate(62.48 454.4) scale(0.985 1.07)" font-size="28">-</text>
<path transform="translate(70.77 454.00) scale(0.014275 -0.013897)" d="M763 0L583 0L583 1147Q518 1085 412.5 1023Q307 961 223 930L223 1104Q374 1175 487 1276Q600 1377 647 1472L763 1472Z" fill="#000"/>
<text transform="translate(39.48 526.4) scale(0.985 1.07)" font-size="28">-</text>
<path transform="translate(47.76 526.00) scale(0.014275 -0.013897)" d="M763 0L583 0L583 1147Q518 1085 412.5 1023Q307 961 223 930L223 1104Q374 1175 487 1276Q600 1377 647 1472L763 1472Z" fill="#000"/>
<text transform="translate(64.00 526.4) scale(0.985 1.07)" font-size="28">.5</text>
<path transform="translate(225.02 555.40) scale(0.014130 -0.014092)" d="M763 0L583 0L583 1147Q518 1085 412.5 1023Q307 961 223 930L223 1104Q374 1175 487 1276Q600 1377 647 1472L763 1472Z" fill="#000"/>
<text transform="translate(241.10 555.8) scale(0.975 1.085)" font-size="28">0</text>
<path transform="translate(407.76 555.40) scale(0.014130 -0.014092)" d="M763 0L583 0L583 1147Q518 1085 412.5 1023Q307 961 223 930L223 1104Q374 1175 487 1276Q600 1377 647 1472L763 1472Z" fill="#000"/>
<text transform="translate(423.84 555.8) scale(0.975 1.085)" font-size="28">00</text>
<path transform="translate(590.50 555.40) scale(0.014130 -0.014092)" d="M763 0L583 0L583 1147Q518 1085 412.5 1023Q307 961 223 930L223 1104Q374 1175 487 1276Q600 1377 647 1472L763 1472Z" fill="#000"/>
<text transform="translate(606.58 555.8) scale(0.975 1.085)" font-size="28">000</text>
<path transform="translate(773.24 555.40) scale(0.014130 -0.014092)" d="M763 0L583 0L583 1147Q518 1085 412.5 1023Q307 961 223 930L223 1104Q374 1175 487 1276Q600 1377 647 1472L763 1472Z" fill="#000"/>
<text transform="translate(789.32 555.8) scale(0.975 1.085)" font-size="28">0000</text>
<text transform="translate(101.5 587.3) scale(1 1.0)" font-size="29" textLength="36.40" lengthAdjust="spacing">(a)</text>
<path d="M421.9 580.4L426.3 577.5" stroke="#000" stroke-width="1.1" fill="none"/>
<path d="M426.0 577.3L433.0 593.2" stroke="#000" stroke-width="2.4" fill="none"/>
<path d="M433.0 593.6L437.3 564.3" stroke="#000" stroke-width="1.1" fill="none"/>
<text transform="translate(437.6 593.5) scale(1 1.04)" font-size="32">s (GeV)</text>
<text transform="translate(15.4 273.8) rotate(-90) scale(1.114 1)" font-size="32.5" style="font-family:&quot;Liberation Serif&quot;,serif">ρ</text>
</svg></body></html>
